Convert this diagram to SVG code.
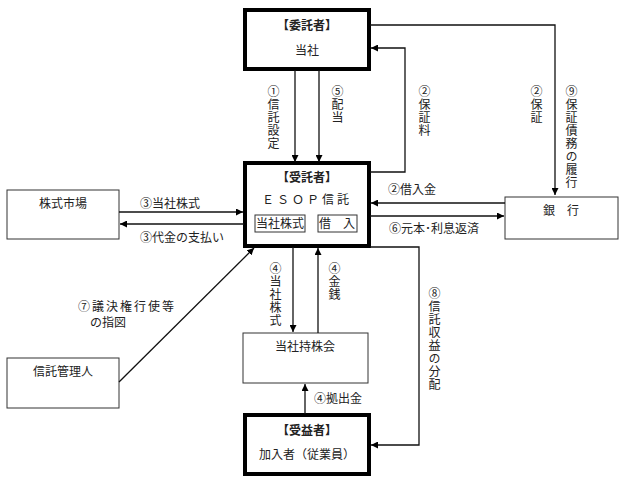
<svg xmlns="http://www.w3.org/2000/svg" width="624" height="486" viewBox="0 0 624 486">
<style>
text{font-family:"Liberation Serif","Noto Sans CJK JP",serif;font-size:12px;fill:#222}
.v{writing-mode:vertical-rl;text-orientation:upright;letter-spacing:1px}
.thick{fill:#fff;stroke:#000;stroke-width:4}
.thin{fill:#fff;stroke:#333;stroke-width:1}
.c{fill:none;stroke:#111;stroke-width:1.3}
</style>
<defs><marker id="a" viewBox="0 0 10 10" refX="10" refY="5" markerWidth="7" markerHeight="7" orient="auto" markerUnits="userSpaceOnUse"><path d="M0,0L10,5L0,10z" fill="#000"/></marker></defs>
<g id="itakusha"><rect class="thick" x="245" y="10" width="124" height="59"/><text x="307" y="30" text-anchor="middle" font-weight="bold">【委託者】</text><text x="307" y="55" text-anchor="middle">当社</text></g>
<g id="jutakusha"><rect class="thick" x="245" y="163" width="124" height="83"/><text x="307" y="182" text-anchor="middle" font-weight="bold">【受託者】</text><text x="307" y="204" text-anchor="middle" letter-spacing="3">ＥＳＯＰ信託</text>
<rect class="thin" x="255" y="215" width="50" height="17"/><text x="280" y="228" text-anchor="middle">当社株式</text>
<rect class="thin" x="318" y="215" width="39" height="17"/><text x="337" y="228" text-anchor="middle">借　入</text></g>
<g id="market"><rect class="thin" x="7" y="190" width="112" height="49"/><text x="63" y="208" text-anchor="middle">株式市場</text></g>
<g id="bank"><rect class="thin" x="505" y="197" width="113" height="42"/><text x="561" y="215" text-anchor="middle">銀　行</text></g>
<g id="kanri"><rect class="thin" x="7" y="358" width="112" height="50"/><text x="63" y="376" text-anchor="middle">信託管理人</text></g>
<g id="mochikabu"><rect class="thin" x="243" y="333" width="125" height="50"/><text x="305" y="351" text-anchor="middle">当社持株会</text></g>
<g id="juekisha"><rect class="thick" x="245" y="415" width="124" height="59"/><text x="307" y="435" text-anchor="middle" font-weight="bold">【受益者】</text><text x="307" y="459" text-anchor="middle">加入者（従業員）</text></g>
<g id="connectors">
<path class="c" d="M295,70V162" marker-end="url(#a)"/>
<path class="c" d="M319,70V162" marker-end="url(#a)"/>
<path class="c" d="M370,172H405V48H371" marker-end="url(#a)"/>
<path class="c" d="M370,25H555V195" marker-end="url(#a)"/>
<path class="c" d="M505,203H371" marker-end="url(#a)"/>
<path class="c" d="M370,216H504" marker-end="url(#a)"/>
<path class="c" d="M370,247H419V445H371" marker-end="url(#a)"/>
<path class="c" d="M119,212H243" marker-end="url(#a)"/>
<path class="c" d="M244,224H120" marker-end="url(#a)"/>
<path class="c" d="M119,382L254,248" marker-end="url(#a)"/>
<path class="c" d="M293,247V332" marker-end="url(#a)"/>
<path class="c" d="M318,333V248" marker-end="url(#a)"/>
<path class="c" d="M305,414V384" marker-end="url(#a)"/>
</g>
<g id="labels">
<text class="v" x="272" y="85">①信託設定</text>
<text class="v" x="336" y="85">⑤配当</text>
<text class="v" x="423" y="85">②保証料</text>
<text class="v" x="535" y="85">②保証</text>
<text class="v" x="570" y="85">⑨保証債務の履行</text>
<text x="388" y="194">②借入金</text>
<text x="389" y="233">⑥元本･利息返済</text>
<text class="v" x="433" y="287">⑧信託収益の分配</text>
<text x="140" y="208">③当社株式</text>
<text x="140" y="242">③代金の支払い</text>
<text x="78" y="311" letter-spacing="2">⑦議決権行使等</text>
<text x="90" y="327">の指図</text>
<text class="v" x="274" y="262">④当社株式</text>
<text class="v" x="333" y="262">④金銭</text>
<text x="314" y="403">④拠出金</text>
</g>
</svg>
